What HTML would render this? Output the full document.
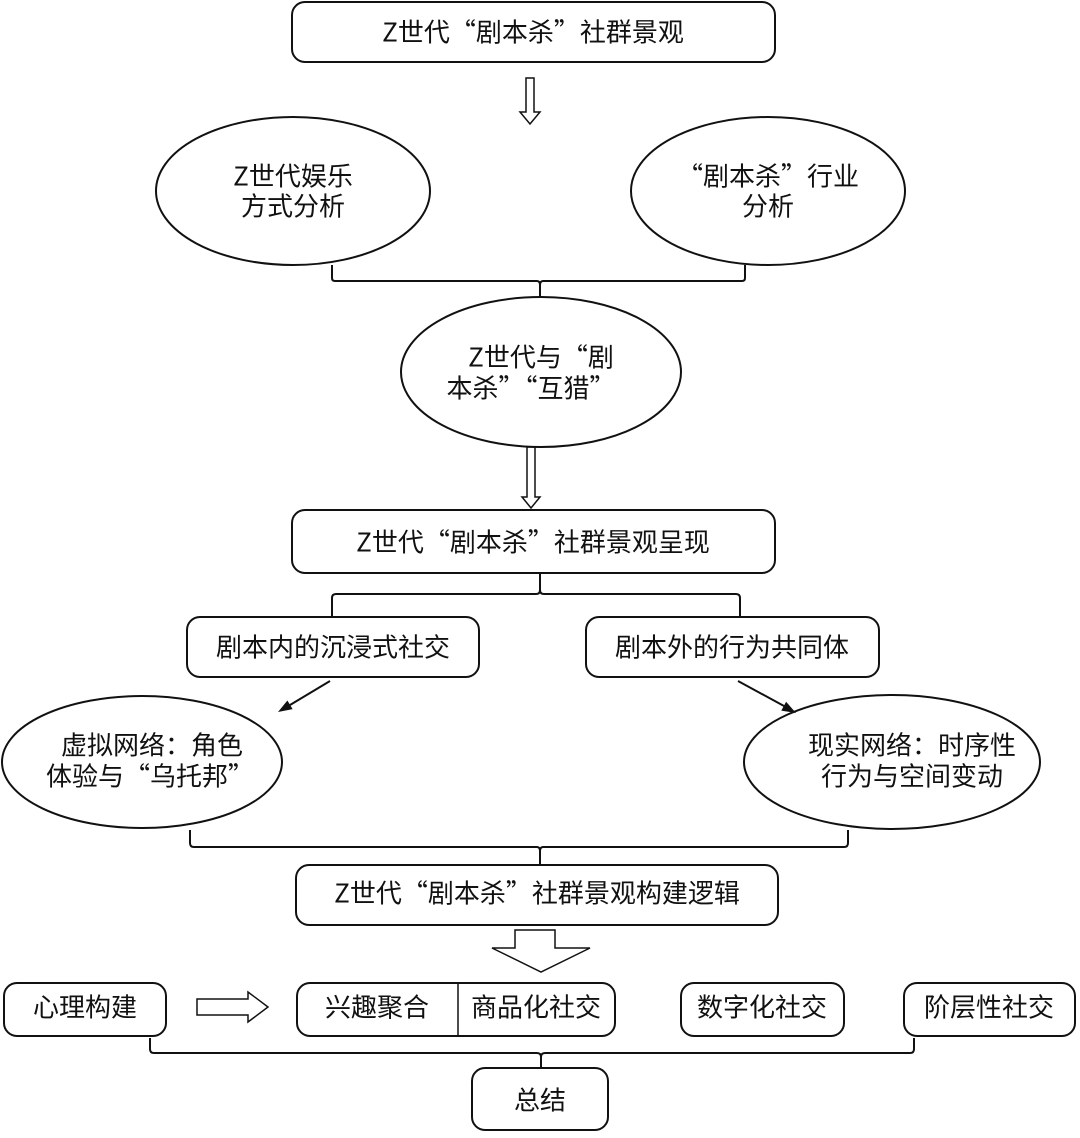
<!DOCTYPE html>
<html><head><meta charset="utf-8"><style>
html,body{margin:0;padding:0;background:#fff;}
svg text{font-family:"Noto Sans CJK SC","Liberation Sans",sans-serif;font-size:26px;fill:#111;text-anchor:middle;dominant-baseline:central;}
</style></head><body>
<svg width="1080" height="1133" viewBox="0 0 1080 1133" xmlns="http://www.w3.org/2000/svg">
<g fill="none" stroke="#111" stroke-width="2">
<rect x="292" y="2" width="483" height="60" rx="13"/>
<path d="M526 78 V112 H520 L530 124 L540 112 H534 V78 Z" stroke-width="1.5"/>
<ellipse cx="293" cy="191" rx="137" ry="74"/>
<ellipse cx="768" cy="191" rx="137" ry="74"/>
<path d="M332 265 V278 Q332 281 335 281 H537 Q540 281 540 285 V297 M540 285 Q540 281 543 281 H742 Q745 281 745 278 V265"/>
<ellipse cx="541" cy="372" rx="140" ry="75"/>
<path d="M527 447 V497 H522 L531 508 L540 497 H535 V447 Z" stroke-width="1.5"/>
<rect x="292" y="510" width="483" height="63" rx="13"/>
<path d="M540 573 V590 M540 590 Q540 594 536 594 H336 Q332 594 332 598 V617 M540 590 Q540 594 544 594 H736 Q740 594 740 598 V617"/>
<rect x="187" y="617" width="292" height="60" rx="13"/>
<rect x="586" y="617" width="293" height="60" rx="13"/>
<path d="M330 681 L290 705"/>
<path d="M738 681 L784 706"/>
<ellipse cx="142" cy="762" rx="140" ry="66"/>
<ellipse cx="892" cy="762" rx="148" ry="67"/>
<path d="M190 830 V843 Q190 847 194 847 H537 Q540 847 540 851 V865 M540 851 Q540 847 543 847 H844 Q848 847 848 843 V830"/>
<rect x="296" y="865" width="482" height="60" rx="13"/>
<polygon points="515,930 555,930 555,948 590,948 541,972 492,948 515,948" stroke-width="1.5"/>
<rect x="4" y="983" width="162" height="53" rx="13"/>
<path d="M197 999 H248 V992 L268 1007 L248 1022 V1015 H197 Z" stroke-width="1.5"/>
<rect x="297" y="983" width="318" height="53" rx="13"/>
<path d="M458 983 V1036" stroke-width="1.5"/>
<rect x="681" y="983" width="163" height="53" rx="13"/>
<rect x="904" y="983" width="171" height="53" rx="13"/>
<path d="M150 1038 V1049 Q150 1053 154 1053 H537 Q541 1053 541 1057 V1068 M541 1057 Q541 1053 545 1053 H910 Q914 1053 914 1049 V1038"/>
<rect x="472" y="1068" width="136" height="62" rx="13"/>
</g>
<polygon points="278,712 287.4,700.5 292.6,709.1" fill="#111"/>
<polygon points="796,713 781.3,710.6 786.1,701.8" fill="#111"/>
<text x="533" y="31">Z世代“剧本杀”社群景观</text>
<text x="293" y="175">Z世代娱乐</text>
<text x="293" y="205">方式分析</text>
<text x="768" y="175">“剧本杀”行业</text>
<text x="768" y="205">分析</text>
<text x="541" y="356">Z世代与“剧</text>
<text x="531" y="387">本杀”“互猎”</text>
<text x="533" y="541">Z世代“剧本杀”社群景观呈现</text>
<text x="333" y="646">剧本内的沉浸式社交</text>
<text x="732" y="646">剧本外的行为共同体</text>
<text x="152" y="744">虚拟网络：角色</text>
<text x="150" y="775">体验与“乌托邦”</text>
<text x="912" y="744">现实网络：时序性</text>
<text x="912" y="775">行为与空间变动</text>
<text x="537" y="892">Z世代“剧本杀”社群景观构建逻辑</text>
<text x="85" y="1006">心理构建</text>
<text x="377" y="1006">兴趣聚合</text>
<text x="536" y="1006">商品化社交</text>
<text x="762" y="1006">数字化社交</text>
<text x="989" y="1006">阶层性社交</text>
<text x="540" y="1099">总结</text>
</svg>
</body></html>
